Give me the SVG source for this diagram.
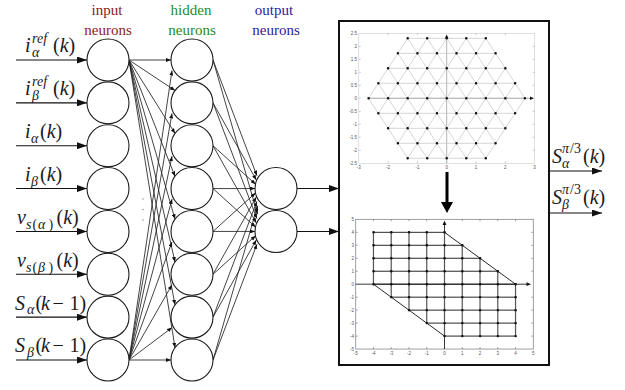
<svg xmlns="http://www.w3.org/2000/svg" width="625" height="390" viewBox="0 0 625 390">
<style>
.bg{fill:#fff}
.neu{fill:#fff;stroke:#1a1a1a;stroke-width:1.1}
.c{stroke:#222;stroke-width:0.85;fill:none;marker-end:url(#as)}
.a{stroke:#111;stroke-width:1.1;fill:none;marker-end:url(#ah)}
.ttl{font-family:"Liberation Serif",serif;font-size:15px;text-anchor:middle}
.lb{font-family:"Liberation Serif",serif;font-size:20px;fill:#1a1a1a}
.it{font-style:italic}
.sm{font-size:14px}
.tk{font-family:"Liberation Sans",sans-serif;font-size:4.5px;fill:#555}
.nss{vector-effect:non-scaling-stroke}
</style>
<defs>
<marker id="ah" viewBox="0 0 10 7" refX="10" refY="3.5" markerWidth="10" markerHeight="7" markerUnits="userSpaceOnUse" orient="auto"><path d="M0,0L10,3.5L0,7z" fill="#111"/></marker>
<marker id="as" viewBox="0 0 5 4" refX="5" refY="2" markerWidth="5" markerHeight="4" markerUnits="userSpaceOnUse" orient="auto"><path d="M0,0L5,2L0,4z" fill="#111"/></marker>
</defs>
<rect class="bg" x="0" y="0" width="625" height="390"/>

<g id="titles">
<text class="ttl" x="107" y="15" fill="#8B1A1A">input</text>
<text class="ttl" x="108" y="35" fill="#8B1A1A">neurons</text>
<text class="ttl" x="191" y="15" fill="#1E8C1E">hidden</text>
<text class="ttl" x="192" y="35" fill="#1E8C1E">neurons</text>
<text class="ttl" x="274" y="15" fill="#2B1B9B">output</text>
<text class="ttl" x="276" y="35" fill="#2B1B9B">neurons</text>
</g>

<g id="input-labels">
<text class="lb"><tspan x="25" y="52" class="it">i</tspan><tspan x="32" y="43" class="it sm">ref</tspan><tspan x="32" y="57" class="it sm">α</tspan><tspan x="53" y="52">(<tspan class="it">k</tspan>)</tspan></text>
<text class="lb"><tspan x="25" y="95" class="it">i</tspan><tspan x="32" y="86" class="it sm">ref</tspan><tspan x="32" y="100" class="it sm">β</tspan><tspan x="53" y="95">(<tspan class="it">k</tspan>)</tspan></text>
<text class="lb"><tspan x="25" y="137.5" class="it">i</tspan><tspan x="31" y="142.5" class="it sm">α</tspan><tspan x="40" y="137.5">(<tspan class="it">k</tspan>)</tspan></text>
<text class="lb"><tspan x="25" y="180.5" class="it">i</tspan><tspan x="31" y="185.5" class="it sm">β</tspan><tspan x="40" y="180.5">(<tspan class="it">k</tspan>)</tspan></text>
<text class="lb"><tspan x="17" y="224" class="it">v</tspan><tspan x="26" y="228.5" class="it sm">s</tspan><tspan x="32.5" y="228.5" class="sm">(</tspan><tspan x="38" y="228.5" class="it sm">α</tspan><tspan x="48.5" y="228.5" class="sm">)</tspan><tspan x="56.5" y="224">(<tspan class="it">k</tspan>)</tspan></text>
<text class="lb"><tspan x="17" y="267" class="it">v</tspan><tspan x="26" y="271.5" class="it sm">s</tspan><tspan x="32.5" y="271.5" class="sm">(</tspan><tspan x="38" y="271.5" class="it sm">β</tspan><tspan x="48.5" y="271.5" class="sm">)</tspan><tspan x="56.5" y="267">(<tspan class="it">k</tspan>)</tspan></text>
<text class="lb"><tspan x="15" y="309.5" class="it">S</tspan><tspan x="27" y="314" class="it sm">α</tspan><tspan x="35.5" y="309.5">(</tspan><tspan x="41" y="309.5" class="it">k</tspan><tspan x="52.5" y="309.5">−</tspan><tspan x="69.5" y="309.5">1</tspan><tspan x="79.5" y="309.5">)</tspan></text>
<text class="lb"><tspan x="15" y="352" class="it">S</tspan><tspan x="27" y="356.5" class="it sm">β</tspan><tspan x="35.5" y="352">(</tspan><tspan x="41" y="352" class="it">k</tspan><tspan x="52.5" y="352">−</tspan><tspan x="69.5" y="352">1</tspan><tspan x="79.5" y="352">)</tspan></text>
</g>

<g id="output-labels">
<text class="lb"><tspan x="552" y="163" class="it">S</tspan><tspan x="562" y="153" class="it sm">π</tspan><tspan x="570" y="153" class="sm">/3</tspan><tspan x="562" y="168" class="it sm">α</tspan><tspan x="583" y="163">(<tspan class="it">k</tspan>)</tspan></text>
<text class="lb"><tspan x="552" y="204" class="it">S</tspan><tspan x="562" y="194" class="it sm">π</tspan><tspan x="570" y="194" class="sm">/3</tspan><tspan x="562" y="209" class="it sm">β</tspan><tspan x="583" y="204">(<tspan class="it">k</tspan>)</tspan></text>
</g>

<g id="connectors">
<line class="a" x1="16" y1="60" x2="87" y2="60"/>
<line class="a" x1="16" y1="102.86" x2="87" y2="102.86"/>
<line class="a" x1="16" y1="145.71" x2="87" y2="145.71"/>
<line class="a" x1="16" y1="188.57" x2="87" y2="188.57"/>
<line class="a" x1="16" y1="231.43" x2="87" y2="231.43"/>
<line class="a" x1="16" y1="274.29" x2="87" y2="274.29"/>
<line class="a" x1="16" y1="317.14" x2="87" y2="317.14"/>
<line class="a" x1="16" y1="360" x2="87" y2="360"/>

<line class="c" x1="129" y1="60" x2="171" y2="60"/>
<line class="c" x1="129" y1="60" x2="175" y2="90.5"/>
<line class="c" x1="129" y1="60" x2="175" y2="133.4"/>
<line class="c" x1="129" y1="60" x2="175" y2="176.3"/>
<line class="c" x1="129" y1="60" x2="175" y2="219.1"/>
<line class="c" x1="129" y1="60" x2="175" y2="262"/>
<line class="c" x1="129" y1="60" x2="175" y2="304.8"/>
<line class="c" x1="129" y1="60" x2="175" y2="347.7"/>
<line class="c" x1="129" y1="360" x2="172" y2="70.5"/>
<line class="c" x1="129" y1="360" x2="172" y2="113.4"/>
<line class="c" x1="129" y1="360" x2="172" y2="156.2"/>
<line class="c" x1="129" y1="360" x2="172" y2="199.1"/>
<line class="c" x1="129" y1="360" x2="172" y2="241.9"/>
<line class="c" x1="129" y1="360" x2="172" y2="284.8"/>
<line class="c" x1="129" y1="360" x2="172" y2="327.6"/>
<line class="c" x1="129" y1="360" x2="171" y2="360"/>

<line class="c" x1="213" y1="60" x2="256.9" y2="175.7"/>
<line class="c" x1="213" y1="102.86" x2="256.3" y2="180"/>
<line class="c" x1="213" y1="145.71" x2="255.6" y2="184.3"/>
<line class="c" x1="213" y1="188.57" x2="255" y2="188.57"/>
<line class="c" x1="213" y1="231.43" x2="255.6" y2="192.9"/>
<line class="c" x1="213" y1="274.29" x2="256.3" y2="197.1"/>
<line class="c" x1="213" y1="317.14" x2="256.9" y2="201.4"/>
<line class="c" x1="213" y1="360" x2="257.6" y2="205.7"/>
<line class="c" x1="213" y1="60" x2="257.6" y2="214.3"/>
<line class="c" x1="213" y1="102.86" x2="256.9" y2="218.6"/>
<line class="c" x1="213" y1="145.71" x2="256.3" y2="222.9"/>
<line class="c" x1="213" y1="188.57" x2="255.6" y2="227.1"/>
<line class="c" x1="213" y1="231.43" x2="255" y2="231.43"/>
<line class="c" x1="213" y1="274.29" x2="255.6" y2="235.7"/>
<line class="c" x1="213" y1="317.14" x2="256.3" y2="240"/>
<line class="c" x1="213" y1="360" x2="256.9" y2="244.3"/>

<line class="a" x1="297" y1="188.57" x2="339" y2="188.57"/>
<line class="a" x1="297" y1="231.43" x2="339" y2="231.43"/>
<line class="a" x1="549" y1="171" x2="602" y2="171"/>
<line class="a" x1="549" y1="213" x2="602" y2="213"/>
</g>

<g id="ellipsis" fill="#999">
<circle cx="143" cy="199" r="0.8"/><circle cx="143" cy="209.5" r="0.8"/><circle cx="143" cy="220" r="0.8"/>
</g>

<g id="in1"><circle class="neu" cx="108" cy="60" r="21"/></g>
<g id="in2"><circle class="neu" cx="108" cy="102.86" r="21"/></g>
<g id="in3"><circle class="neu" cx="108" cy="145.71" r="21"/></g>
<g id="in4"><circle class="neu" cx="108" cy="188.57" r="21"/></g>
<g id="in5"><circle class="neu" cx="108" cy="231.43" r="21"/></g>
<g id="in6"><circle class="neu" cx="108" cy="274.29" r="21"/></g>
<g id="in7"><circle class="neu" cx="108" cy="317.14" r="21"/></g>
<g id="in8"><circle class="neu" cx="108" cy="360" r="21"/></g>
<g id="h1"><circle class="neu" cx="192" cy="60" r="21"/></g>
<g id="h2"><circle class="neu" cx="192" cy="102.86" r="21"/></g>
<g id="h3"><circle class="neu" cx="192" cy="145.71" r="21"/></g>
<g id="h4"><circle class="neu" cx="192" cy="188.57" r="21"/></g>
<g id="h5"><circle class="neu" cx="192" cy="231.43" r="21"/></g>
<g id="h6"><circle class="neu" cx="192" cy="274.29" r="21"/></g>
<g id="h7"><circle class="neu" cx="192" cy="317.14" r="21"/></g>
<g id="h8"><circle class="neu" cx="192" cy="360" r="21"/></g>
<g id="o1"><circle class="neu" cx="276" cy="188.57" r="21"/></g>
<g id="o2"><circle class="neu" cx="276" cy="231.43" r="21"/></g>

<g id="panel">
<rect x="339" y="21" width="210" height="344" fill="none" stroke="#111" stroke-width="2"/>

<g id="hex-plot">
<rect x="358.8" y="33.3" width="175.8" height="130" fill="none" stroke="#ccc" stroke-width="0.6"/>
<path stroke="#aaa" stroke-width="0.6" d="M388.1 163.3v-2M417.4 163.3v-2M446.7 163.3v-2M476 163.3v-2M505.3 163.3v-2M388.1 33.3v2M417.4 33.3v2M476 33.3v2M505.3 33.3v2M358.8 46.34h2M358.8 59.33h2M358.8 72.32h2M358.8 85.31h2M358.8 98.3h2M358.8 111.29h2M358.8 124.28h2M358.8 137.27h2M358.8 150.26h2M534.6 46.34h-2M534.6 59.33h-2M534.6 72.32h-2M534.6 85.31h-2M534.6 111.29h-2M534.6 124.28h-2M534.6 137.27h-2M534.6 150.26h-2"/>
<g class="tk" text-anchor="end">
<text x="357" y="35">2.5</text><text x="357" y="48">2</text><text x="357" y="61">1.5</text><text x="357" y="74">1</text><text x="357" y="87">0.5</text><text x="357" y="100">0</text><text x="357" y="113">-0.5</text><text x="357" y="126">-1</text><text x="357" y="139">-1.5</text><text x="357" y="152">-2</text><text x="357" y="165">-2.5</text>
</g>
<g class="tk" text-anchor="middle">
<text x="358.8" y="169">-3</text><text x="388.1" y="169">-2</text><text x="417.4" y="169">-1</text><text x="446.7" y="169">0</text><text x="476" y="169">1</text><text x="505.3" y="169">2</text><text x="534.6" y="169">3</text>
</g>
<line x1="446.7" y1="163.3" x2="446.7" y2="37" stroke="#aaa" stroke-width="0.9"/>
<line x1="368.5" y1="98.3" x2="531" y2="98.3" stroke="#999" stroke-width="0.9"/>
<g transform="translate(446.7 98.3) scale(9.77 -15)">
<path class="nss" fill="none" stroke="#c4c4c4" stroke-width="0.7" d="M-4 4H4M-5 3H5M-6 2H6M-7 1H7M-8 0H8M-7 -1H7M-6 -2H6M-5 -3H5M-4 -4H4M-4 -4L4 4M-2 -4L5 3M0 -4L6 2M2 -4L7 1M4 -4L8 0M-5 -3L2 4M-6 -2L0 4M-7 -1L-2 4M-8 0L-4 4M4 -4L-4 4M2 -4L-5 3M0 -4L-6 2M-2 -4L-7 1M-4 -4L-8 0M5 -3L-2 4M6 -2L0 4M7 -1L2 4M8 0L4 4"/>
<path class="nss" fill="none" stroke="#111" stroke-width="2.4" stroke-linecap="round" d="M-4 4h.01M-2 4h.01M0 4h.01M2 4h.01M4 4h.01M-5 3h.01M-3 3h.01M-1 3h.01M1 3h.01M3 3h.01M5 3h.01M-6 2h.01M-4 2h.01M-2 2h.01M0 2h.01M2 2h.01M4 2h.01M6 2h.01M-7 1h.01M-5 1h.01M-3 1h.01M-1 1h.01M1 1h.01M3 1h.01M5 1h.01M7 1h.01M-8 0h.01M-6 0h.01M-4 0h.01M-2 0h.01M0 0h.01M2 0h.01M4 0h.01M6 0h.01M8 0h.01M-7 -1h.01M-5 -1h.01M-3 -1h.01M-1 -1h.01M1 -1h.01M3 -1h.01M5 -1h.01M7 -1h.01M-6 -2h.01M-4 -2h.01M-2 -2h.01M0 -2h.01M2 -2h.01M4 -2h.01M6 -2h.01M-5 -3h.01M-3 -3h.01M-1 -3h.01M1 -3h.01M3 -3h.01M5 -3h.01M-4 -4h.01M-2 -4h.01M0 -4h.01M2 -4h.01M4 -4h.01"/>
</g>
<path d="M534 98.3L530 96.5L530 100.1z" fill="#111"/>
<path d="M446.7 34.5L444.9 38.5L448.5 38.5z" fill="#111"/>
</g>

<g id="down-arrow">
<line x1="447" y1="172" x2="447" y2="203" stroke="#000" stroke-width="3"/>
<path d="M441 202L453 202L447 213z" fill="#000"/>
</g>

<g id="square-plot">
<rect x="355.7" y="219.35" width="177.6" height="129.7" fill="none" stroke="#888" stroke-width="0.8"/>
<path stroke="#666" stroke-width="0.6" d="M373.5 349.05v-2M391.2 349.05v-2M409 349.05v-2M426.7 349.05v-2M462.3 349.05v-2M480 349.05v-2M497.8 349.05v-2M515.5 349.05v-2M373.5 219.35v2M391.2 219.35v2M409 219.35v2M426.7 219.35v2M462.3 219.35v2M480 219.35v2M497.8 219.35v2M515.5 219.35v2M355.7 232.3h2M355.7 245.3h2M355.7 258.3h2M355.7 271.2h2M355.7 297.2h2M355.7 310.1h2M355.7 323.1h2M355.7 336.1h2M533.3 232.3h-2M533.3 245.3h-2M533.3 258.3h-2M533.3 271.2h-2M533.3 297.2h-2M533.3 310.1h-2M533.3 323.1h-2M533.3 336.1h-2"/>
<g class="tk" text-anchor="end">
<text x="354" y="221">5</text><text x="354" y="234">4</text><text x="354" y="247">3</text><text x="354" y="260">2</text><text x="354" y="273">1</text><text x="354" y="286">0</text><text x="354" y="299">-1</text><text x="354" y="312">-2</text><text x="354" y="325">-3</text><text x="354" y="338">-4</text><text x="354" y="351">-5</text>
</g>
<g class="tk" text-anchor="middle">
<text x="355.7" y="355">-5</text><text x="373.5" y="355">-4</text><text x="391.2" y="355">-3</text><text x="409" y="355">-2</text><text x="426.7" y="355">-1</text><text x="444.5" y="355">0</text><text x="462.3" y="355">1</text><text x="480" y="355">2</text><text x="497.8" y="355">3</text><text x="515.5" y="355">4</text><text x="533.3" y="355">5</text>
</g>
<line x1="355.7" y1="284.2" x2="527" y2="284.2" stroke="#222" stroke-width="0.9"/>
<line x1="444.5" y1="349.05" x2="444.5" y2="225" stroke="#222" stroke-width="0.9"/>
<path d="M531 284.2L526.5 282.3L526.5 286.1z" fill="#111"/>
<path d="M444.5 220.5L442.6 225L446.4 225z" fill="#111"/>
<g transform="translate(444.5 284.2) scale(17.76 -12.97)">
<path class="nss" fill="none" stroke="#555" stroke-width="1.2" d="M-4 0V4M-3 -1V4M-2 -2V4M-1 -3V4M0 -4V4M1 -4V3M2 -4V2M3 -4V1M4 -4V0"/>
<path class="nss" fill="none" stroke="#111" stroke-width="0.9" d="M-4 4H0M-4 3H1M-4 2H2M-4 1H3M-4 0H4M-3 -1H4M-2 -2H4M-1 -3H4M0 -4H4M0 4L4 0M-4 0L0 -4"/>
<path class="nss" fill="none" stroke="#111" stroke-width="2.4" stroke-linecap="round" d="M-4 4h.01M-3 4h.01M-2 4h.01M-1 4h.01M0 4h.01M-4 3h.01M-3 3h.01M-2 3h.01M-1 3h.01M0 3h.01M1 3h.01M-4 2h.01M-3 2h.01M-2 2h.01M-1 2h.01M0 2h.01M1 2h.01M2 2h.01M-4 1h.01M-3 1h.01M-2 1h.01M-1 1h.01M0 1h.01M1 1h.01M2 1h.01M3 1h.01M-4 0h.01M-3 0h.01M-2 0h.01M-1 0h.01M0 0h.01M1 0h.01M2 0h.01M3 0h.01M4 0h.01M-3 -1h.01M-2 -1h.01M-1 -1h.01M0 -1h.01M1 -1h.01M2 -1h.01M3 -1h.01M4 -1h.01M-2 -2h.01M-1 -2h.01M0 -2h.01M1 -2h.01M2 -2h.01M3 -2h.01M4 -2h.01M-1 -3h.01M0 -3h.01M1 -3h.01M2 -3h.01M3 -3h.01M4 -3h.01M0 -4h.01M1 -4h.01M2 -4h.01M3 -4h.01M4 -4h.01"/>
</g>
</g>
</g>
</svg>
